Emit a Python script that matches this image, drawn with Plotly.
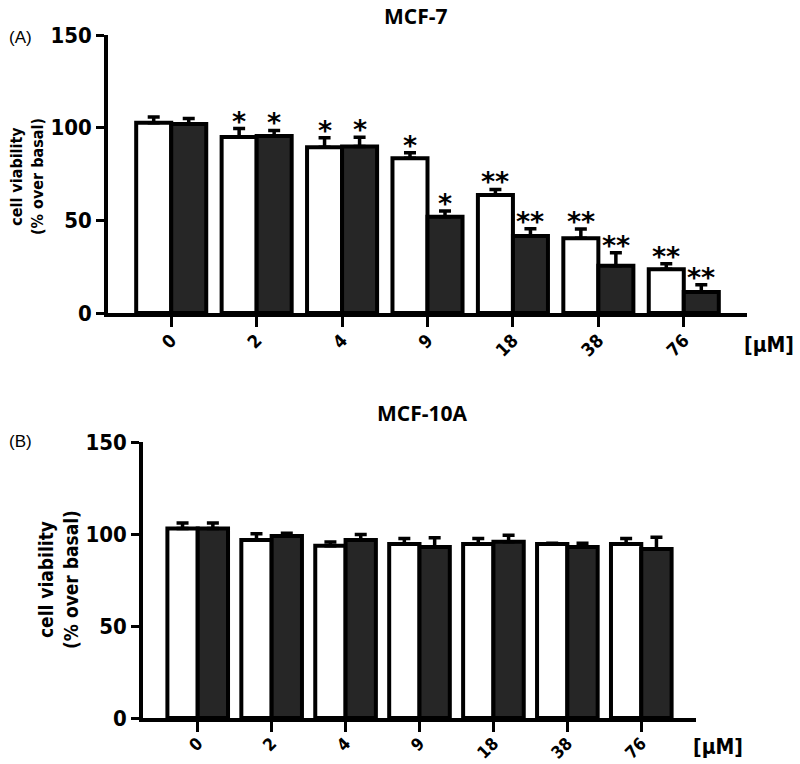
import plotly.graph_objects as go

concentrations = ["0", "2", "4", "9", "18", "38", "76"]

# Panel A: MCF-7
mcf7_white = [102.7, 95.0, 89.5, 83.5, 63.7, 40.3, 23.6]
mcf7_white_err = [3.0, 4.5, 5.0, 3.0, 3.0, 5.0, 3.0]
mcf7_dark = [102.0, 95.5, 89.8, 52.0, 41.5, 25.5, 11.3]
mcf7_dark_err = [3.0, 3.0, 5.0, 3.0, 4.0, 7.0, 4.0]
mcf7_white_sig = ["", "*", "*", "*", "**", "**", "**"]
mcf7_dark_sig = ["", "*", "*", "*", "**", "**", "**"]

# Panel B: MCF-10A
mcf10a_white = [103.0, 96.7, 93.6, 94.5, 94.5, 94.5, 94.5]
mcf10a_white_err = [3.0, 3.5, 2.0, 3.0, 3.0, 0.5, 3.0]
mcf10a_dark = [103.0, 98.9, 96.7, 93.0, 95.8, 93.0, 91.8]
mcf10a_dark_err = [3.0, 1.5, 3.0, 5.0, 3.5, 2.0, 6.5]

y_ticks = [0, 50, 100, 150]

xs = list(range(len(concentrations)))

fig = go.Figure()

def add_pair(white, werr, dark, derr, xa, ya):
    fig.add_trace(go.Bar(
        x=xs, y=white, xaxis=xa, yaxis=ya,
        marker=dict(color="white", line=dict(color="black", width=4)),
        error_y=dict(type="data", array=werr, arrayminus=[0]*len(werr), symmetric=False,
                     color="black", thickness=3.5, width=6),
        showlegend=False, offsetgroup="w" + xa))
    fig.add_trace(go.Bar(
        x=xs, y=dark, xaxis=xa, yaxis=ya,
        marker=dict(color="#262626", line=dict(color="black", width=4)),
        error_y=dict(type="data", array=derr, arrayminus=[0]*len(derr), symmetric=False,
                     color="black", thickness=3.5, width=6),
        showlegend=False, offsetgroup="d" + xa))

add_pair(mcf7_white, mcf7_white_err, mcf7_dark, mcf7_dark_err, "x", "y")
add_pair(mcf10a_white, mcf10a_white_err, mcf10a_dark, mcf10a_dark_err, "x2", "y2")

annotations = []
half_a = (1 - 0.18) / 4
for i in xs:
    for sig, val, err, off in [(mcf7_white_sig[i], mcf7_white[i], mcf7_white_err[i], -half_a),
                               (mcf7_dark_sig[i], mcf7_dark[i], mcf7_dark_err[i], half_a)]:
        if sig:
            annotations.append(dict(x=i + off, y=val + err, xref="x", yref="y", text=sig,
                                    showarrow=False, yanchor="bottom", yshift=-10,
                                    font=dict(family="DejaVu Sans", size=27, color="black", weight="bold")))

title_font = dict(family="Open Sans", size=21, color="black", weight="bold")
cond = "DejaVu Sans Condensed"
annotations += [
    dict(x=415/800, y=1.0, xref="paper", yref="paper", text="MCF-7", showarrow=False,
         font=title_font, xanchor="center", yanchor="top"),
    dict(x=422/800, y=1-413/764, xref="paper", yref="paper", text="MCF-10A", showarrow=False,
         font=title_font, xanchor="center", yanchor="middle"),
    dict(x=20/800, y=1-37/764, xref="paper", yref="paper", text="(A)", showarrow=False,
         font=dict(family="Liberation Sans", size=17, color="black"), xanchor="center", yanchor="middle"),
    dict(x=20/800, y=1-441/764, xref="paper", yref="paper", text="(B)", showarrow=False,
         font=dict(family="Liberation Sans", size=17, color="black"), xanchor="center", yanchor="middle"),
    dict(x=27/800, y=1-177/764, xref="paper", yref="paper", text="cell viability<br>(% over basal)",
         showarrow=False, textangle=-90,
         font=dict(family=cond, size=16, color="black", weight="bold"),
         xanchor="center", yanchor="middle"),
    dict(x=58/800, y=1-579/764, xref="paper", yref="paper", text="cell viability<br>(% over basal)",
         showarrow=False, textangle=-90,
         font=dict(family=cond, size=19, color="black", weight="bold"),
         xanchor="center", yanchor="middle"),
    dict(x=769/800, y=1-345/764, xref="paper", yref="paper", text="[μM]", showarrow=False,
         font=dict(family=cond, size=21, color="black", weight="bold"),
         xanchor="center", yanchor="middle"),
    dict(x=718/800, y=1-747/764, xref="paper", yref="paper", text="[μM]", showarrow=False,
         font=dict(family=cond, size=21, color="black", weight="bold"),
         xanchor="center", yanchor="middle"),
]

tick_font = dict(family=cond, size=22, color="black", weight="bold")

common_x = dict(range=[-0.74, 6.74], tickvals=xs, ticktext=concentrations, tickangle=-45,
                showline=True, linecolor="black", linewidth=3.5, ticks="outside", ticklen=10,
                tickwidth=3, tickcolor="black", showgrid=False, zeroline=False,
                automargin=False)
common_y = dict(range=[0, 150], tickvals=y_ticks, showline=True, linecolor="black", linewidth=3.5,
                ticks="outside", ticklen=8, tickwidth=3, tickcolor="black", showgrid=False,
                zeroline=False, tickfont=tick_font, automargin=False)

fig.update_layout(
    template="none",
    width=800, height=764,
    margin=dict(l=0, r=0, t=0, b=0, autoexpand=False),
    paper_bgcolor="white", plot_bgcolor="white",
    barmode="group",
    bargap=0.18,
    xaxis=dict(domain=[108/800, 747/800], anchor="y", ticklabelstandoff=-4,
               tickfont=dict(family=cond, size=18, color="black", weight="bold"), **common_x),
    yaxis=dict(domain=[1-313/764, 1-35/764], anchor="x", **common_y),
    xaxis2=dict(domain=[143/800, 696/800], anchor="y2", ticklabelstandoff=-5,
                tickfont=dict(family=cond, size=17, color="black", weight="bold"), **common_x),
    yaxis2=dict(domain=[1-718/764, 1-442/764], anchor="x2", **common_y),
    annotations=annotations,
)

fig.write_html("out.html", config={"displayModeBar": False},
               post_script="document.body.style.margin='0';document.body.style.overflow='hidden';")
